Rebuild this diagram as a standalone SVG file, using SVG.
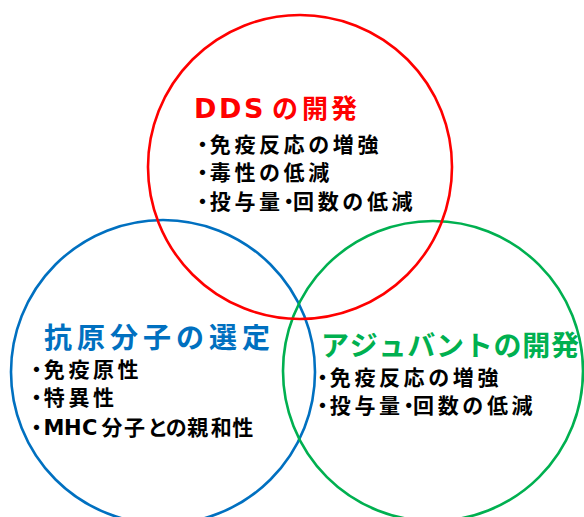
<svg xmlns="http://www.w3.org/2000/svg" width="584" height="517" viewBox="0 0 584 517">
<style>
.ring{fill:none;stroke-width:2.6}
.t{font-family:"Noto Sans CJK JP",sans-serif;font-weight:700}
.lat{font-family:"DejaVu Sans","Noto Sans CJK JP",sans-serif}
.body{font-family:"Noto Sans CJK JP",sans-serif;font-weight:700;font-size:21px;letter-spacing:3.6px;fill:#000}
.lead{font-feature-settings:"halt";letter-spacing:2px}
.mid{font-feature-settings:"halt";letter-spacing:-1px}
</style>
<rect width="584" height="517" fill="#fff"/>
<g id="connectors"/>
<g id="antigen">
<circle class="ring" cx="163" cy="372" r="152" stroke="#0070C0"/>
<text class="t" font-size="28" fill="#0070C0" x="44 77 110 143 176 209 242" y="348">抗原分子の選定</text>
<text class="body" x="31.3" y="377"><tspan class="lead">・</tspan><tspan>免疫原性</tspan></text>
<text class="body" x="31.3" y="405"><tspan class="lead">・</tspan><tspan>特異性</tspan></text>
<text class="body" x="31.3" y="435"><tspan class="lead">・</tspan><tspan class="lat" style="letter-spacing:0" x="43.5 64 82">MHC</tspan><tspan style="letter-spacing:0" x="101.5 124 147.3 165.7 187.3 210.7 232.3">分子との親和性</tspan></text>
</g>
<g id="adjuvant">
<circle class="ring" cx="433" cy="371" r="150" stroke="#00B050"/>
<text class="t" font-size="28" fill="#00B050" x="321 349.8 378.5 407.3 436 464.8 493.5 522.3 551" y="356">アジュバントの開発</text>
<text class="body" x="317.3" y="385"><tspan class="lead">・</tspan><tspan>免疫反応の増強</tspan></text>
<text class="body" x="317.3" y="413"><tspan class="lead">・</tspan><tspan>投与量</tspan><tspan class="mid">・</tspan><tspan>回数の低減</tspan></text>
</g>
<g id="dds">
<circle class="ring" cx="300" cy="167" r="152" stroke="#FF0000"/>
<text class="t" font-size="26" fill="#FF0000" y="118"><tspan class="lat" font-size="27" x="194 219 244">DDS</tspan><tspan x="272 302 331">の開発</tspan></text>
<text class="body" x="197.3" y="152"><tspan class="lead">・</tspan><tspan>免疫反応の増強</tspan></text>
<text class="body" x="197.3" y="180"><tspan class="lead">・</tspan><tspan>毒性の低減</tspan></text>
<text class="body" x="197.3" y="208.5"><tspan class="lead">・</tspan><tspan>投与量</tspan><tspan class="mid">・</tspan><tspan>回数の低減</tspan></text>
</g>
</svg>
